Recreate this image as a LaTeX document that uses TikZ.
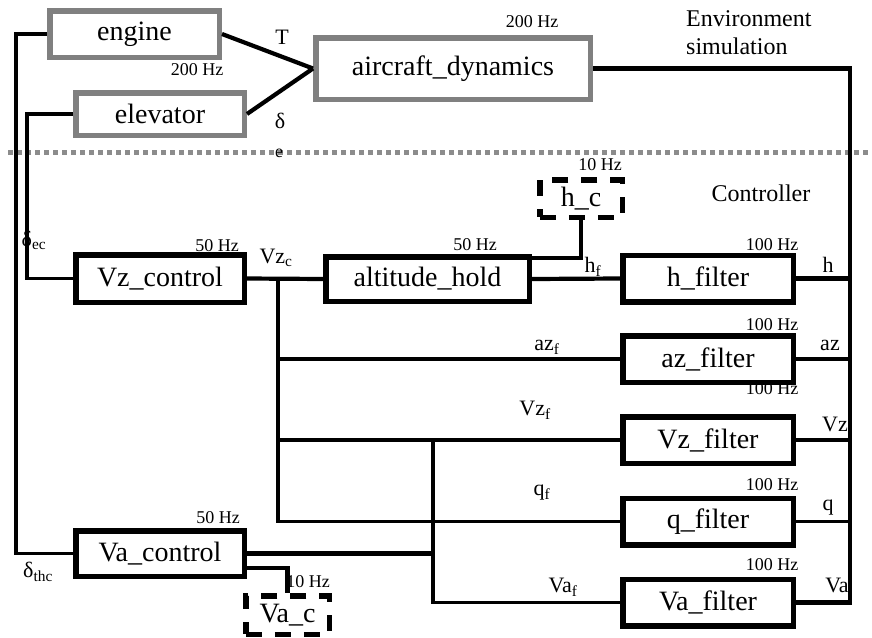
\documentclass[tikz,border=0pt]{standalone}
\usepackage{fontspec}
\setmainfont{Liberation Serif}
\usetikzlibrary{positioning}
\definecolor{simborder}{RGB}{128,128,128}
\definecolor{sepline}{RGB}{140,140,140}
\newcommand{\boxfont}{\fontsize{28}{30}\selectfont}
\newcommand{\sigfont}{\fontsize{22}{24}\selectfont}
\newcommand{\ratefont}{\fontsize{18}{20}\selectfont}
\newcommand{\notefont}{\fontsize{24}{28}\selectfont}

\begin{document}
\begin{tikzpicture}[x=1pt,y=-1pt]
        \tikzstyle{block} = [rectangle, draw=black, fill=white, line width=5.5pt, inner sep=0pt, font=\boxfont];
        \tikzstyle{simblock} = [block, draw=simborder];
        \tikzstyle{source} = [block, dash pattern=on 16pt off 13pt];
        \tikzstyle{wire} = [line width=4.2pt];
        \tikzstyle{thinwire} = [line width=3.4pt];
        \tikzstyle{rate} = [font=\ratefont, inner sep=0pt];
        \tikzstyle{sig} = [font=\sigfont, inner sep=0pt];

        \useasboundingbox (0,0) rectangle (872,637);

        % separation between simulation and controller
        \draw[draw=sepline, line width=5pt, dash pattern=on 5pt off 4pt] (8,152) -- (872,152);

        % rates
        \node[rate] at (197,70) {200 Hz};
        \node[rate] at (532,22) {200 Hz};
        \node[rate] at (217,246) {50 Hz};
        \node[rate] at (475,245) {50 Hz};
        \node[rate] at (600,165) {10 Hz};
        \node[rate] at (772,245) {100 Hz};
        \node[rate] at (772,325) {100 Hz};
        \node[rate] at (772,389) {100 Hz};
        \node[rate] at (772,485) {100 Hz};
        \node[rate] at (772,565) {100 Hz};
        \node[rate] at (218,518) {50 Hz};
        \node[rate] at (308,582) {10 Hz};

        % signals
        \node[sig] at (282,37) {T};
        \node[sig] at (280,121) {δ};
        \node[rate] at (279,153) {e};
        \node[sig] at (34,240) {δ\textsubscript{ec}};
        \node[sig] at (276,258) {Vz\textsubscript{c}};
        \node[sig] at (593,267) {h\textsubscript{f}};
        \node[sig] at (547,347) {az\textsubscript{f}};
        \node[sig] at (535,410) {Vz\textsubscript{f}};
        \node[sig] at (542,493) {q\textsubscript{f}};
        \node[sig] at (563,587) {Va\textsubscript{f}};
        \node[sig] at (828,265) {h};
        \node[sig] at (830,345) {az};
        \node[sig] at (835,424) {Vz};
        \node[sig] at (828,508) {q};
        \node[sig] at (837,585) {Va};
        \node[sig] at (38,572) {δ\textsubscript{thc}};

        \node[font=\notefont, align=left, anchor=west, inner sep=0pt] (envnote) at (686,33) {Environment\\simulation};
        \node[font=\notefont, inner sep=0pt] (ctlnote) at (761,193) {Controller};

        % simulation blocks
        \node(engine) [simblock, minimum width=169.5pt, minimum height=46.5pt] at (134.5,34) {engine};
        \node(elevator) [simblock, minimum width=168.5pt, minimum height=42.5pt] at (160,114) {elevator};
        \node(dyn) [simblock, minimum width=274.5pt, minimum height=61.5pt] at (453,68.5) {aircraft\_dynamics};

        % controller blocks
        \node(vzctl) [block, minimum width=168.5pt, minimum height=47.5pt] at (160,278.5) {Vz\_control};
        \node(alt) [block, minimum width=203.5pt, minimum height=44.5pt] at (427.5,279) {altitude\_hold};
        \node(hc) [source, minimum width=82.5pt, minimum height=37.5pt] at (581,198.5) {h\_c};
        \node(vactl) [block, minimum width=168.5pt, minimum height=45.5pt] at (160,553.5) {Va\_control};
        \node(vac) [source, minimum width=83.5pt, minimum height=38.5pt] at (287.5,615) {Va\_c};

        \node(hfilt) [block, minimum width=170.5pt, minimum height=46.5pt] at (708,278.5) {h\_filter};
        \node(azfilt) [block, minimum width=170.5pt, minimum height=46.5pt] at (708,359) {az\_filter};
        \node(vzfilt) [block, minimum width=170.5pt, minimum height=46.5pt] at (708,440) {Vz\_filter};
        \node(qfilt) [block, minimum width=170.5pt, minimum height=46.5pt] at (708,521.5) {q\_filter};
        \node(vafilt) [block, minimum width=170.5pt, minimum height=46.5pt] at (708,602.5) {Va\_filter};

        \coordinate (vzc) at (278,278.5);
        \coordinate (vabus) at (433,440);
        \coordinate (outbus) at (850,68.5);

        % simulation wiring
        \draw[wire] (engine.east) -- (dyn.west);
        \draw[wire] (elevator.east) -- (dyn.west);
        \draw[wire] (dyn.east) -- (outbus) -- (outbus |- vafilt.east) -- (vafilt.east);
        \draw[thinwire] (engine.west) -- ++(-31,0) |- (vactl.west);
        \draw[thinwire] (elevator.west) -- ++(-46,0) |- (vzctl.west);

        % controller wiring
        \draw[wire] (vzctl.east) -- (alt.west);
        \draw[wire] (alt.east) -- (hfilt.west);
        \draw[wire] ([yshift=21pt]alt.east) -| (hc.south);
        \draw[thinwire] (vzc) -- (vzc |- qfilt.west) -- (qfilt.west);
        \draw[thinwire] (vzc |- azfilt.west) -- (azfilt.west);
        \draw[wire] (vzc |- vzfilt.west) -- (vzfilt.west);
        \draw[thinwire] (vabus) -- (vabus |- vafilt.west) -- (vafilt.west);
        \draw[wire] (vactl.east) -- (vabus |- vactl.east);
        \draw[wire] ([yshift=-14.5pt]vactl.east) -| (vac.north);
        \draw[wire] (hfilt.east) -- (outbus |- hfilt.east);
        \draw[thinwire] (azfilt.east) -- (outbus |- azfilt.east);
        \draw[thinwire] (vzfilt.east) -- (outbus |- vzfilt.east);
        \draw[thinwire] (qfilt.east) -- (outbus |- qfilt.east);

    \end{tikzpicture}
\end{document}
